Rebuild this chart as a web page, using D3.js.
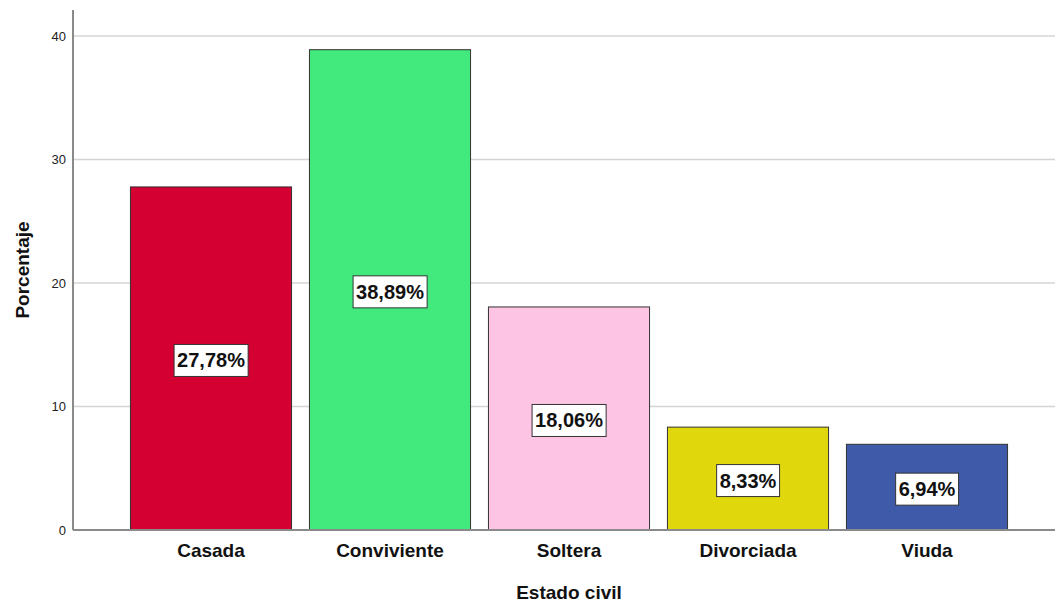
<!DOCTYPE html>
<html>
<head>
<meta charset="utf-8">
<script src="https://cdn.jsdelivr.net/npm/d3@7"></script>
<style>
  body { margin: 0; background: #fff; }
  svg { display: block; font-family: "Liberation Sans", Arial, sans-serif; }
</style>
</head>
<body>
<svg id="chart" width="1055" height="603"></svg>
<script>
const categories = ["Casada", "Conviviente", "Soltera", "Divorciada", "Viuda"];
const values = [27.78, 38.89, 18.06, 8.33, 6.94];
const colors = ["#d50032", "#42ea7e", "#fdc4e3", "#e1d70d", "#3e5aa8"];
const yTicks = [0, 10, 20, 30, 40];

const svg = d3.select("#chart");
const plotLeft = 73, plotRight = 1055, plotTop = 10, plotBottom = 530;

const x = d3.scaleBand()
  .domain(categories)
  .range([121.5, 1016.5])
  .paddingInner(0.1)
  .paddingOuter(0.05);

const y = d3.scaleLinear().domain([0, 40]).range([plotBottom, 36]);

// gridlines
svg.append("g")
  .selectAll("line")
  .data(yTicks.filter(d => d > 0))
  .join("line")
  .attr("x1", plotLeft).attr("x2", plotRight)
  .attr("y1", d => y(d)).attr("y2", d => y(d))
  .attr("stroke", "#d4d4d4")
  .attr("stroke-width", 1.5);

// y axis
const yAxis = svg.append("g")
  .attr("transform", `translate(${plotLeft},0)`)
  .call(d3.axisLeft(y).tickValues(yTicks).tickSize(0).tickPadding(7));
yAxis.select(".domain").remove();
yAxis.selectAll("text")
  .attr("font-size", 13)
  .attr("fill", "#222")
  .attr("font-family", "'Liberation Sans', Arial, sans-serif");

svg.append("line")
  .attr("x1", plotLeft).attr("x2", plotLeft)
  .attr("y1", plotTop).attr("y2", plotBottom)
  .attr("stroke", "#8a8a8a").attr("stroke-width", 2);

// bars
svg.append("g")
  .selectAll("rect")
  .data(categories)
  .join("rect")
  .attr("x", d => x(d))
  .attr("y", (d, i) => y(values[i]))
  .attr("width", x.bandwidth())
  .attr("height", (d, i) => y(0) - y(values[i]))
  .attr("fill", (d, i) => colors[i])
  .attr("stroke", "#333")
  .attr("stroke-width", 1);

// x axis baseline
svg.append("line")
  .attr("x1", plotLeft).attr("x2", plotRight)
  .attr("y1", plotBottom).attr("y2", plotBottom)
  .attr("stroke", "#8a8a8a").attr("stroke-width", 2);

// x category labels
svg.append("g")
  .selectAll("text")
  .data(categories)
  .join("text")
  .attr("x", d => x(d) + x.bandwidth() / 2)
  .attr("y", 557)
  .attr("text-anchor", "middle")
  .attr("font-size", 19)
  .attr("font-weight", "bold")
  .attr("fill", "#111")
  .text(d => d);

// value labels
const lab = svg.append("g")
  .selectAll("g")
  .data(categories)
  .join("g")
  .attr("transform", (d, i) =>
    `translate(${x(d) + x.bandwidth() / 2},${y(values[i] / 2) + 2})`);

lab.append("text")
  .attr("text-anchor", "middle")
  .attr("dy", "0.35em")
  .attr("font-size", 20)
  .attr("font-weight", "bold")
  .attr("fill", "#111")
  .text((d, i) => values[i].toFixed(2).replace(".", ",") + "%");

lab.each(function () {
  const g = d3.select(this);
  const bb = g.select("text").node().getBBox();
  g.insert("rect", "text")
    .attr("x", bb.x - 3)
    .attr("y", -16)
    .attr("width", bb.width + 6)
    .attr("height", 32)
    .attr("fill", "#fff")
    .attr("stroke", "#333")
    .attr("stroke-width", 1);
});

// axis titles
svg.append("text")
  .attr("transform", "translate(29,270) rotate(-90)")
  .attr("text-anchor", "middle")
  .attr("font-size", 19)
  .attr("font-weight", "bold")
  .attr("fill", "#111")
  .text("Porcentaje");

svg.append("text")
  .attr("x", 569)
  .attr("y", 599)
  .attr("text-anchor", "middle")
  .attr("font-size", 19)
  .attr("font-weight", "bold")
  .attr("fill", "#111")
  .text("Estado civil");
</script>
</body>
</html>
